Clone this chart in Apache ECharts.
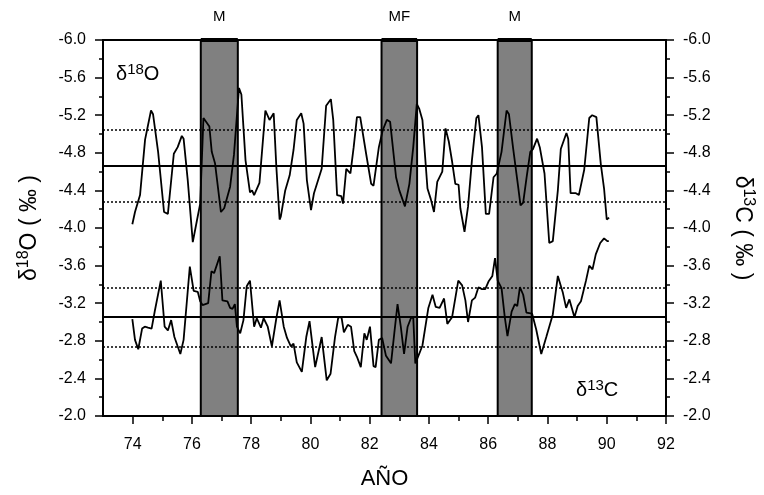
<!DOCTYPE html>
<html>
<head>
<meta charset="utf-8">
<script src="https://cdn.jsdelivr.net/npm/echarts@6/dist/echarts.min.js"></script>
<style>
html,body{margin:0;padding:0;background:#fff;}
#chart{width:764px;height:495px;}
</style>
</head>
<body>
<div id="chart"></div>
<script>
// δ18O series
const yearsO = [73.99,74.08,74.25,74.42,74.62,74.69,74.86,75.06,75.19,75.39,75.52,75.66,75.72,75.86,76.03,76.17,76.28,76.39,76.59,76.67,76.78,76.98,77.09,77.29,77.42,77.59,77.67,77.81,77.96,78.03,78.10,78.28,78.48,78.62,78.76,78.85,78.96,79.00,79.15,79.30,79.43,79.54,79.69,79.77,79.88,80.02,80.12,80.38,80.53,80.69,80.77,80.90,81.04,81.10,81.21,81.35,81.46,81.57,81.68,81.88,82.05,82.13,82.31,82.44,82.58,82.69,82.89,83.00,83.19,83.34,83.47,83.59,83.67,83.78,83.95,84.06,84.17,84.28,84.45,84.56,84.67,84.78,84.89,85.00,85.06,85.20,85.32,85.45,85.60,85.67,85.79,85.92,86.03,86.18,86.29,86.45,86.62,86.70,86.84,87.01,87.09,87.18,87.30,87.42,87.51,87.65,87.74,87.90,88.06,88.18,88.35,88.45,88.64,88.70,88.78,88.96,89.06,89.24,89.41,89.51,89.65,89.80,89.91,90.00,90.08];
const valuesO = [-4.04,-4.17,-4.35,-4.94,-5.25,-5.21,-4.81,-4.17,-4.15,-4.79,-4.86,-4.98,-4.95,-4.51,-3.85,-4.08,-4.26,-5.17,-5.08,-4.81,-4.69,-4.17,-4.21,-4.44,-4.78,-5.49,-5.42,-4.72,-4.38,-4.40,-4.35,-4.48,-5.25,-5.15,-5.22,-4.65,-4.09,-4.12,-4.40,-4.56,-4.83,-5.15,-5.22,-5.11,-4.51,-4.19,-4.37,-4.63,-5.30,-5.37,-5.15,-4.35,-4.34,-4.26,-4.63,-4.58,-4.86,-5.18,-5.18,-4.79,-4.47,-4.45,-4.86,-5.04,-5.15,-5.13,-4.54,-4.40,-4.23,-4.47,-4.86,-5.32,-5.27,-5.15,-4.42,-4.31,-4.17,-4.49,-4.60,-5.06,-4.92,-4.71,-4.47,-4.46,-4.21,-3.96,-4.23,-4.72,-5.17,-5.20,-4.86,-4.15,-4.15,-4.54,-4.58,-4.81,-5.25,-5.21,-4.85,-4.44,-4.24,-4.27,-4.55,-4.81,-4.84,-4.95,-4.86,-4.58,-3.84,-3.86,-4.40,-4.84,-5.01,-4.95,-4.37,-4.37,-4.35,-4.62,-5.17,-5.20,-5.18,-4.68,-4.42,-4.09,-4.11];

// δ13C series
const yearsC = [73.99,74.08,74.19,74.32,74.41,74.52,74.64,74.75,74.95,75.08,75.19,75.30,75.41,75.61,75.72,75.93,76.06,76.20,76.28,76.36,76.55,76.66,76.75,76.94,77.03,77.20,77.29,77.37,77.45,77.52,77.63,77.74,77.85,77.96,78.10,78.19,78.33,78.42,78.56,78.70,78.76,78.85,78.96,79.10,79.21,79.34,79.43,79.54,79.71,79.86,79.97,80.16,80.38,80.55,80.68,80.83,80.94,81.05,81.13,81.19,81.26,81.37,81.48,81.57,81.70,81.82,81.90,82.01,82.13,82.20,82.31,82.42,82.55,82.72,82.83,82.94,83.05,83.16,83.28,83.39,83.47,83.54,83.67,83.78,83.98,84.12,84.23,84.36,84.51,84.62,84.78,84.99,85.12,85.23,85.32,85.45,85.56,85.67,85.79,85.90,86.01,86.14,86.23,86.32,86.45,86.56,86.65,86.79,86.90,86.98,87.07,87.18,87.29,87.48,87.62,87.79,87.96,88.18,88.35,88.52,88.63,88.74,88.91,89.02,89.13,89.30,89.41,89.52,89.63,89.78,89.91,90.02,90.07];
const valuesC = [-3.03,-2.81,-2.71,-2.93,-2.95,-2.94,-2.93,-3.12,-3.44,-2.95,-2.91,-3.02,-2.84,-2.66,-2.81,-3.59,-3.33,-3.32,-3.22,-3.18,-3.20,-3.54,-3.52,-3.70,-3.23,-3.22,-3.15,-3.14,-3.19,-2.95,-2.88,-3.02,-3.38,-3.44,-2.95,-3.04,-2.94,-3.04,-2.95,-2.74,-2.74,-3.04,-3.23,-2.95,-2.83,-2.74,-2.77,-2.57,-2.47,-2.84,-3.01,-2.52,-2.84,-2.38,-2.45,-2.84,-3.05,-3.05,-2.89,-2.89,-2.97,-2.95,-2.69,-2.63,-2.52,-2.88,-2.81,-2.95,-2.53,-2.52,-2.81,-2.83,-2.64,-2.56,-2.88,-3.19,-2.95,-2.66,-2.95,-3.04,-3.05,-2.56,-2.66,-2.75,-3.15,-3.29,-3.16,-3.15,-3.25,-2.98,-3.05,-3.44,-3.39,-3.23,-3.00,-3.23,-3.26,-3.37,-3.35,-3.35,-3.43,-3.49,-3.68,-3.44,-3.36,-3.05,-2.85,-3.11,-3.19,-3.17,-3.37,-3.29,-3.10,-3.09,-2.92,-2.66,-2.84,-3.08,-3.49,-3.31,-3.15,-3.24,-3.05,-3.17,-3.22,-3.44,-3.60,-3.56,-3.72,-3.84,-3.89,-3.86,-3.86];

// Shaded periods
const bandStart = [76.3, 82.4, 86.32];
const bandEnd = [77.55, 83.6, 87.47];
const bandLabels = ['M', 'MF', 'M'];

// Reference lines (mean solid, ±1σ dotted)
const meanO = -4.66;
const sdLinesO = [-5.04, -4.28];
const meanC = -3.06;
const sdLinesC = [-3.36, -2.74];

// Axis ticks
const xLabelTicks = [74, 76, 78, 80, 82, 84, 86, 88, 90, 92];
const xMinorTicks = [75, 77, 79, 81, 83, 85, 87, 89, 91];

const FONT = 'Liberation Sans, Arial, sans-serif';
const chart = echarts.init(document.getElementById('chart'), null, {renderer: 'canvas'});

const pairs = (xs, ys) => xs.map((x, i) => [x, ys[i]]);

const refLine = (v, dotted) => ({
  yAxis: v,
  lineStyle: {color: '#000', width: dotted ? 1.5 : 1.8, type: dotted ? [2, 2] : 'solid'}
});

const yAxisCommon = {
  type: 'value', min: -6, max: -2, interval: 0.4, inverse: true,
  splitLine: {show: false},
  axisLine: {show: true, onZero: false, lineStyle: {color: '#000', width: 2}},
  axisTick: {show: true, inside: false, length: 8, lineStyle: {color: '#000', width: 1.5}},
  minorTick: {show: true, splitNumber: 2, length: 4, lineStyle: {color: '#000', width: 1.5}},
  axisLabel: {color: '#000', fontFamily: FONT, fontSize: 16, margin: 17, formatter: v => v.toFixed(1)},
  nameLocation: 'middle',
  nameTextStyle: {
    color: '#000', fontFamily: FONT, fontSize: 23,
    rich: {
      d: {fontSize: 23, fontFamily: FONT, color: '#000'},
      s: {fontSize: 16, fontFamily: FONT, color: '#000', padding: [0, 0, 11, 0]}
    }
  }
};

const option = {
  animation: false,
  backgroundColor: '#fff',
  grid: {left: 103, right: 93, top: 40, bottom: 79, show: true, borderColor: '#000', borderWidth: 2, backgroundColor: 'transparent'},
  xAxis: [
    {
      type: 'value', min: 73, max: 92, position: 'bottom',
      splitLine: {show: false},
      axisLine: {show: true, onZero: false, lineStyle: {color: '#000', width: 2}},
      axisTick: {show: true, customValues: xLabelTicks, length: 8, lineStyle: {color: '#000', width: 1.5}},
      axisLabel: {customValues: xLabelTicks, color: '#000', fontFamily: FONT, fontSize: 16, margin: 21},
      name: 'AÑO', nameLocation: 'middle', nameGap: 52,
      nameTextStyle: {color: '#000', fontFamily: FONT, fontSize: 22}
    },
    {
      type: 'value', min: 73, max: 92, position: 'bottom', offset: 0,
      splitLine: {show: false},
      axisLine: {show: false, onZero: false},
      axisTick: {show: true, customValues: xMinorTicks, length: 5, lineStyle: {color: '#000', width: 1.5}},
      axisLabel: {show: false}
    }
  ],
  yAxis: [
    Object.assign({}, yAxisCommon, {
      position: 'left', name: '{d|δ}{s|18}{d|O ( ‰ )}', nameGap: 60
    }),
    Object.assign({}, yAxisCommon, {
      position: 'right', name: '{d|δ}{s|13}{d|C ( ‰ )}', nameGap: 63, nameRotate: -90
    })
  ],
  series: [
    {
      name: 'bands', type: 'line', xAxisIndex: 0, yAxisIndex: 0,
      data: [], z: 1, silent: true,
      markArea: {
        silent: true,
        itemStyle: {color: '#808080', borderColor: '#000', borderWidth: 2},
        label: {show: true, position: 'top', distance: 15, color: '#000', fontFamily: FONT, fontSize: 15},
        data: bandStart.map((s, i) => [{xAxis: s, name: bandLabels[i]}, {xAxis: bandEnd[i]}])
      },
      markLine: {
        silent: true, symbol: 'none', label: {show: false},
        data: bandStart.map((s, i) => [
          {coord: [s, -6], lineStyle: {color: '#000', width: 4, type: 'solid'}},
          {coord: [bandEnd[i], -6]}
        ])
      }
    },
    {
      name: 'd18O', type: 'line', xAxisIndex: 0, yAxisIndex: 0,
      data: pairs(yearsO, valuesO),
      showSymbol: false, symbol: 'none', smooth: false,
      lineStyle: {color: '#000', width: 1.8},
      z: 5,
      markLine: {
        silent: true, symbol: 'none', label: {show: false},
        data: [refLine(meanO, false), refLine(sdLinesO[0], true), refLine(sdLinesO[1], true)]
      }
    },
    {
      name: 'd13C', type: 'line', xAxisIndex: 0, yAxisIndex: 1,
      data: pairs(yearsC, valuesC),
      showSymbol: false, symbol: 'none', smooth: false,
      lineStyle: {color: '#000', width: 1.8},
      z: 5,
      markLine: {
        silent: true, symbol: 'none', label: {show: false},
        data: [refLine(meanC, false), refLine(sdLinesC[0], true), refLine(sdLinesC[1], true)]
      }
    }
  ],
  graphic: [
    {
      type: 'text', left: 116, top: 62,
      style: {
        text: '{d|δ}{s|18}{d|O}',
        rich: {
          d: {fontSize: 20, fontFamily: FONT, fill: '#000'},
          s: {fontSize: 15, fontFamily: FONT, fill: '#000', padding: [0, 0, 9, 0]}
        }
      }
    },
    {
      type: 'text', left: 576, top: 378,
      style: {
        text: '{d|δ}{s|13}{d|C}',
        rich: {
          d: {fontSize: 20, fontFamily: FONT, fill: '#000'},
          s: {fontSize: 15, fontFamily: FONT, fill: '#000', padding: [0, 0, 9, 0]}
        }
      }
    }
  ]
};
chart.setOption(option);
</script>
</body>
</html>
